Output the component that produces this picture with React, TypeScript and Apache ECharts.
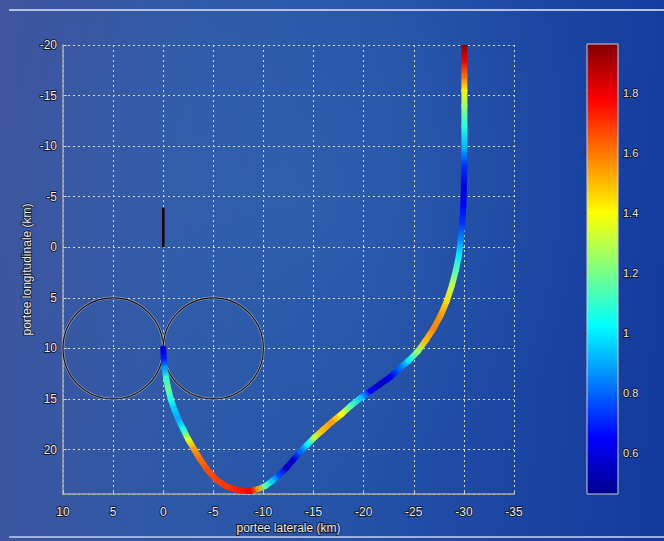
import React, { useEffect, useRef } from "react";
import * as echarts from "echarts";

// ---- data ----
const trajX = [0, -0.05, -0.15, -0.3, -0.5, -0.75, -1.1, -1.5, -2.0, -2.5, -3.1, -3.7, -4.4, -5.3, -6.4, -7.6, -8.7, -9.5, -10.2, -10.9, -11.6, -12.3, -13.0, -13.7, -14.4, -15.1, -15.9, -16.8, -17.8, -18.7, -19.7, -20.7, -21.7, -22.7, -23.6, -24.5, -25.4, -26.2, -27.0, -27.7, -28.3, -28.8, -29.2, -29.5, -29.7, -29.85, -29.95, -30.0, -30.05, -30.05, -30.05, -30.05, -30.05, -30.05, -30.05, -30.05];
const trajY = [10.0, 11.0, 12.0, 13.0, 14.0, 15.0, 16.0, 17.0, 18.0, 19.0, 20.0, 21.0, 22.0, 23.0, 23.7, 24.05, 24.1, 23.9, 23.6, 23.1, 22.5, 21.8, 21.0, 20.2, 19.5, 18.8, 18.1, 17.3, 16.5, 15.7, 14.9, 14.2, 13.5, 12.8, 12.0, 11.2, 10.3, 9.2, 8.0, 6.7, 5.3, 3.8, 2.3, 0.8, -0.8, -2.5, -4.2, -6.0, -8.0, -10.0, -12.0, -14.0, -15.5, -17.0, -18.5, -20.0];
const trajV = [0.58, 0.68, 0.88, 1.1, 1.18, 1.08, 0.95, 0.9, 1.05, 1.35, 1.55, 1.62, 1.66, 1.68, 1.7, 1.74, 1.8, 1.55, 1.15, 0.95, 0.75, 0.55, 0.58, 0.8, 1.0, 1.3, 1.5, 1.55, 1.4, 1.15, 0.95, 0.65, 0.55, 0.62, 0.8, 1.0, 1.25, 1.5, 1.58, 1.55, 1.45, 1.3, 1.15, 1.0, 0.85, 0.72, 0.65, 0.6, 0.72, 0.92, 1.08, 1.25, 1.42, 1.62, 1.8, 1.95];

const circleX = [5, -5];
const circleY = [10, 10];
const circleRadius = 5;

const markerX = [0, 0];
const markerY = [-3.9, 0];

const xMin = -35;
const xMax = 10;
const yMin = -20;
const yMax = 24.4;

const cbMin = 0.463;
const cbMax = 1.963;
const cbTicks = [0.6, 0.8, 1, 1.2, 1.4, 1.6, 1.8];
const jetColors = ["#00008f", "#0000ff", "#0080ff", "#00ffff", "#80ff80", "#ffff00", "#ff8000", "#ff0000", "#800000"];

const xName = "portee laterale (km)";
const yName = "portee longitudinale (km)";

// ---- helpers ----
function hexToRgb(h: string) {
  return [parseInt(h.slice(1, 3), 16), parseInt(h.slice(3, 5), 16), parseInt(h.slice(5, 7), 16)];
}
function jet(v: number) {
  let t = (v - cbMin) / (cbMax - cbMin);
  t = Math.max(0, Math.min(1, t));
  const f = t * (jetColors.length - 1);
  const i = Math.min(Math.floor(f), jetColors.length - 2);
  const r = f - i;
  const a = hexToRgb(jetColors[i]);
  const b = hexToRgb(jetColors[i + 1]);
  const c = a.map((x, k) => Math.round(x + (b[k] - x) * r));
  return `rgb(${c[0]},${c[1]},${c[2]})`;
}

const labelStyle = {
  color: "#ececec",
  fontFamily: "Liberation Sans, Arial, sans-serif",
  fontSize: 12,
  textBorderColor: "rgba(15,15,25,0.9)",
  textBorderWidth: 1.8,
};

export default function App() {
  const ref = useRef<HTMLDivElement>(null);
  useEffect(() => {
    if (!ref.current) return;
    const chart = echarts.init(ref.current, null, { renderer: "svg" });
    const gridLine = { show: true, lineStyle: { color: "#dcdcdc", width: 1, type: [2, 3] as any } };
    const option: any = {
      animation: false,
      backgroundColor: "transparent",
      grid: [
        { left: 63, top: 45, width: 451, height: 449 },
        { left: 587, top: 44, width: 31, height: 450 },
      ],
      xAxis: [
        {
          gridIndex: 0,
          type: "value",
          min: xMin,
          max: xMax,
          interval: 5,
          inverse: true,
          name: xName,
          nameLocation: "middle",
          nameGap: 28,
          nameMoveOverlap: false,
          nameTextStyle: { ...labelStyle },
          axisLine: { show: true, onZero: false, lineStyle: { color: "#a8a8a8", width: 1.5 } },
          axisTick: { show: true, inside: true, length: 4, lineStyle: { color: "#c8c8c8" } },
          axisLabel: { ...labelStyle, margin: 12 },
          splitLine: gridLine,
        },
        { gridIndex: 1, type: "value", min: 0, max: 1, show: false },
      ],
      yAxis: [
        {
          gridIndex: 0,
          type: "value",
          min: yMin,
          max: yMax,
          interval: 5,
          inverse: true,
          name: yName,
          nameLocation: "middle",
          nameGap: 30,
          nameMoveOverlap: false,
          nameTextStyle: { ...labelStyle },
          axisLine: { show: true, onZero: false, lineStyle: { color: "#a8a8a8", width: 1.5 } },
          axisTick: { show: true, inside: true, length: 4, lineStyle: { color: "#c8c8c8" } },
          axisLabel: { ...labelStyle, margin: 6, showMaxLabel: false },
          splitLine: gridLine,
        },
        {
          gridIndex: 1,
          type: "value",
          min: cbMin,
          max: cbMax,
          position: "right",
          axisLine: { show: false },
          axisTick: { show: true, inside: true, length: 4, customValues: cbTicks, lineStyle: { color: "#333" } },
          axisLabel: { ...labelStyle, fontSize: 11, margin: 5, customValues: cbTicks },
          splitLine: { show: false },
        },
        {
          gridIndex: 1,
          type: "value",
          min: cbMin,
          max: cbMax,
          position: "left",
          axisLine: { show: false },
          axisTick: { show: true, inside: true, length: 4, customValues: cbTicks, lineStyle: { color: "#333" } },
          axisLabel: { show: false },
          splitLine: { show: false },
        },
      ],
      series: [
        {
          type: "custom",
          xAxisIndex: 1,
          yAxisIndex: 1,
          data: [[0, cbMin, 1, cbMax]],
          encode: { x: [0, 2], y: [1, 3] },
          z: 1,
          renderItem: (params: any, api: any) => {
            const p1 = api.coord([0, cbMax]);
            const p2 = api.coord([1, cbMin]);
            const stops = jetColors.map((c, i) => ({ offset: i / (jetColors.length - 1), color: c }));
            return {
              type: "rect",
              shape: { x: p1[0], y: p1[1], width: p2[0] - p1[0], height: p2[1] - p1[1] },
              style: {
                fill: new echarts.graphic.LinearGradient(0, 1, 0, 0, stops),
                stroke: "#d0d0d0",
                lineWidth: 1,
              },
            };
          },
        },
        {
          type: "custom",
          xAxisIndex: 0,
          yAxisIndex: 0,
          data: circleX.map((x, i) => [x, circleY[i]]),
          encode: { x: 0, y: 1 },
          z: 3,
          renderItem: (params: any, api: any) => {
            const c = api.coord([api.value(0), api.value(1)]);
            const s = api.size([circleRadius, circleRadius]);
            return {
              type: "group",
              children: [
                { type: "ellipse", shape: { cx: c[0], cy: c[1], rx: s[0], ry: s[1] }, style: { fill: "none", stroke: "rgba(190,190,190,0.75)", lineWidth: 2.6 } },
                { type: "ellipse", shape: { cx: c[0], cy: c[1], rx: s[0], ry: s[1] }, style: { fill: "none", stroke: "#111", lineWidth: 1.2 } },
              ],
            };
          },
        },
        {
          type: "line",
          xAxisIndex: 0,
          yAxisIndex: 0,
          data: markerX.map((x, i) => [x, markerY[i]]),
          symbol: "none",
          lineStyle: { color: "#000", width: 2.5 },
          z: 4,
        },
        {
          type: "custom",
          xAxisIndex: 0,
          yAxisIndex: 0,
          clip: true,
          data: trajX.map((x, i) => [x, trajY[i], trajV[i]]),
          encode: { x: 0, y: 1 },
          z: 5,
          renderItem: (params: any, api: any) => {
            const i = params.dataIndex;
            if (i >= trajX.length - 1) return { type: "group", children: [] };
            const p1 = api.coord([trajX[i], trajY[i]]);
            const p2 = api.coord([trajX[i + 1], trajY[i + 1]]);
            return {
              type: "line",
              shape: { x1: p1[0], y1: p1[1], x2: p2[0], y2: p2[1] },
              style: {
                stroke: new echarts.graphic.LinearGradient(p1[0], p1[1], p2[0], p2[1], [
                  { offset: 0, color: jet(trajV[i]) },
                  { offset: 1, color: jet(trajV[i + 1]) },
                ], true),
                lineWidth: 6,
                lineCap: "round",
              },
            };
          },
        },
      ],
    };
    chart.setOption(option);
    return () => chart.dispose();
  }, []);

  return (
    <div
      style={{
        position: "fixed",
        left: 0,
        top: 0,
        width: 664,
        height: 541,
        overflow: "hidden",
        background:
          "radial-gradient(ellipse at 45% 35%, rgba(60,110,180,0.35) 0%, rgba(60,110,180,0) 60%), linear-gradient(95deg, #40559f 0%, #2d59a8 30%, #2553a8 55%, #1b45a3 78%, #123a9f 100%)",
      }}
    >
      <div style={{ position: "absolute", left: 9, top: 9, width: 655, height: 1.5, background: "#b4c2e6" }} />
      <div style={{ position: "absolute", left: 9, top: 536, width: 655, height: 1.5, background: "#9fb0de" }} />
      <div ref={ref} style={{ position: "absolute", left: 0, top: 0, width: 664, height: 541 }} />
    </div>
  );
}
